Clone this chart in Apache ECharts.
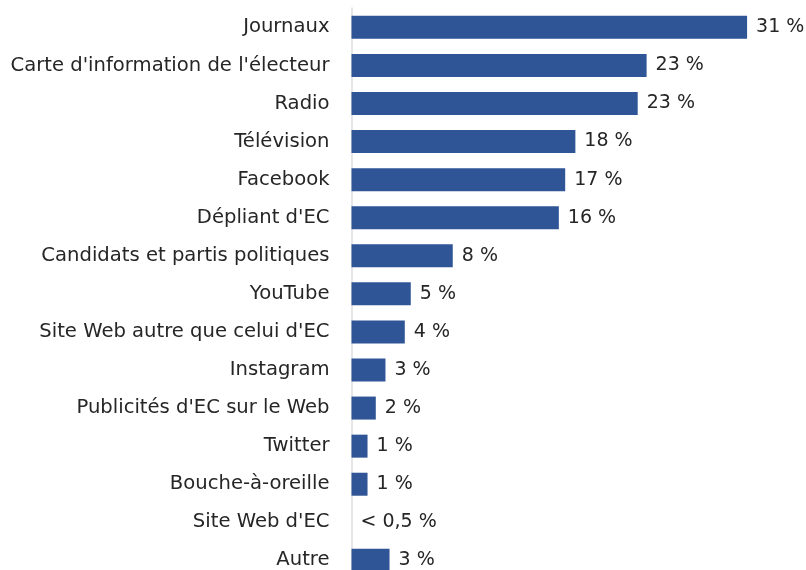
<!DOCTYPE html>
<html>
<head>
<meta charset="utf-8">
<script src="https://cdn.jsdelivr.net/npm/echarts@6/dist/echarts.min.js"></script>
<style>
html,body{margin:0;padding:0;background:#fff;}
#c{width:806px;height:570px;}
</style>
</head>
<body>
<div id="c"></div>
<script>
const categories = [
  "Journaux",
  "Carte d'information de l'électeur",
  "Radio",
  "Télévision",
  "Facebook",
  "Dépliant d'EC",
  "Candidats et partis politiques",
  "YouTube",
  "Site Web autre que celui d'EC",
  "Instagram",
  "Publicités d'EC sur le Web",
  "Twitter",
  "Bouche-à-oreille",
  "Site Web d'EC",
  "Autre"
];
const values = [31.1, 23.2, 22.5, 17.6, 16.8, 16.3, 7.96, 4.66, 4.19, 2.67, 1.91, 1.26, 1.26, 0, 2.99];
const valueLabels = ["31 %", "23 %", "23 %", "18 %", "17 %", "16 %", "8 %", "5 %", "4 %", "3 %", "2 %", "1 %", "1 %", "< 0,5 %", "3 %"];

const FONT = "DejaVu Sans";
const chart = echarts.init(document.getElementById('c'), null, {renderer: 'canvas'});
chart.setOption({
  animation: false,
  backgroundColor: '#ffffff',
  grid: {left: 351.5, right: 9.3, top: 8.3, bottom: -9.4, containLabel: false, outerBoundsMode: 'none'},
  xAxis: {
    type: 'value', min: 0, max: 35,
    show: false
  },
  yAxis: {
    type: 'category',
    data: categories,
    inverse: true,
    axisLine: {show: true, lineStyle: {color: '#e6e6e6', width: 2}},
    axisTick: {show: false},
    axisLabel: {color: '#262626', fontFamily: FONT, fontSize: 19.6, margin: 22}
  },
  series: [{
    type: 'bar',
    data: values,
    barWidth: 23,
    itemStyle: {color: '#2f5597'},
    label: {
      show: true,
      position: 'right',
      distance: 9,
      color: '#262626',
      fontFamily: FONT,
      fontSize: 19,
      formatter: p => valueLabels[p.dataIndex]
    }
  }]
});
</script>
</body>
</html>
